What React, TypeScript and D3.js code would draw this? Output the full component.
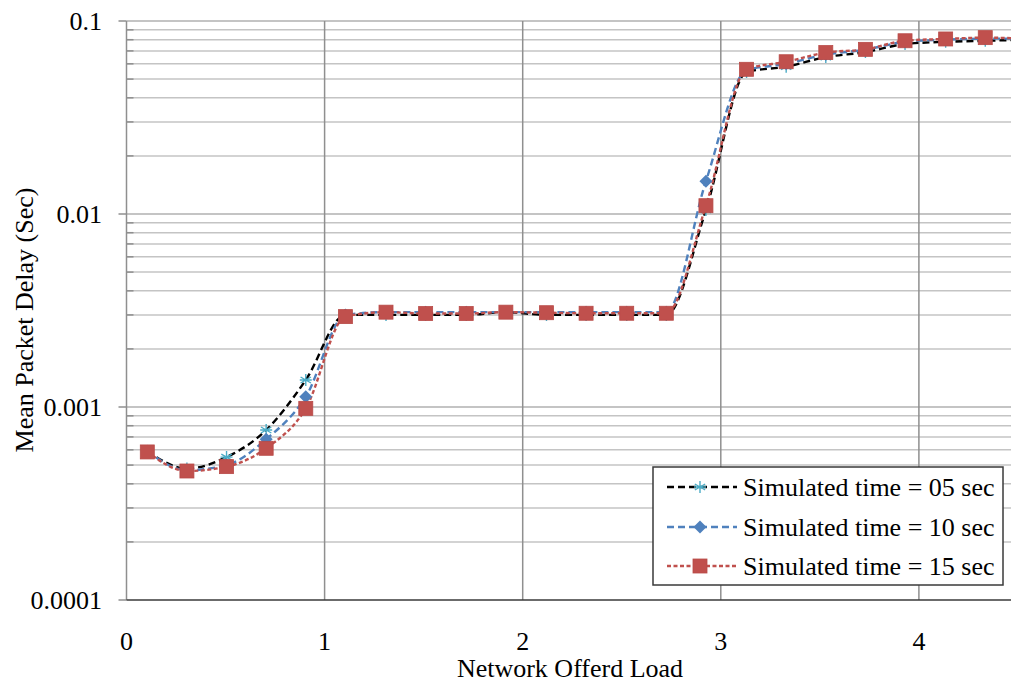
import React from "react";
import * as d3 from "d3";

const loads = [0.105, 0.305, 0.505, 0.705, 0.905, 1.105, 1.31, 1.51, 1.715, 1.915, 2.12, 2.32, 2.525, 2.725, 2.925, 3.13, 3.33, 3.53, 3.73, 3.93, 4.135, 4.335, 4.54];
const sim05 = [0.00059, 0.00048, 0.00055, 0.00076, 0.00138, 0.0030, 0.0030, 0.0030, 0.0030, 0.0031, 0.0030, 0.0030, 0.0030, 0.0030, 0.0105, 0.0545, 0.058, 0.065, 0.069, 0.076, 0.078, 0.079, 0.080];
const sim10 = [0.00059, 0.00047, 0.00050, 0.00068, 0.00113, 0.0030, 0.0031, 0.0031, 0.0031, 0.0031, 0.0031, 0.0031, 0.0031, 0.0031, 0.0148, 0.0555, 0.060, 0.067, 0.071, 0.078, 0.080, 0.081, 0.081];
const sim15 = [0.000585, 0.000466, 0.000491, 0.000611, 0.000984, 0.00294, 0.0031, 0.00305, 0.00305, 0.0031, 0.00308, 0.00306, 0.00306, 0.00306, 0.01104, 0.0562, 0.0615, 0.0686, 0.0713, 0.079, 0.0807, 0.082, 0.081];
const seriesNames = ["Simulated time = 05 sec", "Simulated time = 10 sec", "Simulated time = 15 sec"];
const xTicks = [0, 1, 2, 3, 4];
const yTicks = [0.0001, 0.001, 0.01, 0.1];
const yTickLabels = ["0.0001", "0.001", "0.01", "0.1"];
const xTitle = "Network Offerd Load";
const yTitle = "Mean Packet Delay (Sec)";

const W = 1011;
const H = 683;
const FONT = "'Liberation Serif', 'Times New Roman', serif";

const x = d3.scaleLinear().domain([0, 4.5]).range([126.5, 126.5 + 4.5 * 198.1]);
const y = d3.scaleLog().domain([0.0001, 0.1]).range([600, 21]);

const styles = [
  { line: "#000000", dash: "7,4", marker: "star", mColor: "#4BACC6" },
  { line: "#4F81BD", dash: "7,4", marker: "diamond", mColor: "#4F81BD" },
  { line: "#C0504D", dash: "4,2.5", marker: "square", mColor: "#C0504D" },
];

function Marker({ kind, cx, cy, color }: { kind: string; cx: number; cy: number; color: string }) {
  if (kind === "square") {
    return <rect x={cx - 7} y={cy - 7} width={14} height={14} fill={color} stroke="#b84a47" strokeWidth={0.8} />;
  }
  if (kind === "diamond") {
    const r = 6.5;
    return <path d={`M${cx},${cy - r}L${cx + r},${cy}L${cx},${cy + r}L${cx - r},${cy}Z`} fill={color} />;
  }
  const r = 6;
  const lines = [0, 60, 120].map((a) => {
    const rad = (a * Math.PI) / 180 + Math.PI / 2;
    return `M${cx - r * Math.cos(rad)},${cy - r * Math.sin(rad)}L${cx + r * Math.cos(rad)},${cy + r * Math.sin(rad)}`;
  });
  lines.push(`M${cx - r},${cy}L${cx + r},${cy}`);
  return <path d={lines.join("")} stroke={color} strokeWidth={1.4} fill="none" />;
}

export default function App() {
  const data = [sim05, sim10, sim15];
  const line = d3
    .line<number>()
    .x((_, i) => x(loads[i]))
    .y((v) => y(v))
    .curve(d3.curveMonotoneX);

  const minor: number[] = [];
  for (let e = -4; e < -1; e++) {
    for (let m = 2; m <= 9; m++) minor.push(m * Math.pow(10, e));
  }

  const x0 = x(0);
  const xEnd = W;
  const yBot = y(0.0001);
  const yTop = y(0.1);

  return (
    <svg width={W} height={H} style={{ position: "absolute", left: 0, top: 0, background: "#fff" }} fontFamily={FONT}>
      <defs>
        <clipPath id="plot">
          <rect x={x0} y={yTop - 10} width={xEnd - x0} height={yBot - yTop + 20} />
        </clipPath>
      </defs>
      {minor.map((v, i) => (
        <line key={"m" + i} x1={x0} x2={xEnd} y1={y(v)} y2={y(v)} stroke="#c4c4c4" strokeWidth={1.5} />
      ))}
      {yTicks.slice(1).map((v, i) => (
        <line key={"M" + i} x1={x0} x2={xEnd} y1={y(v)} y2={y(v)} stroke="#b0b0b0" strokeWidth={1.5} />
      ))}
      {xTicks.slice(1).map((v) => (
        <line key={"v" + v} x1={x(v)} x2={x(v)} y1={yTop} y2={yBot} stroke="#8f8f8f" strokeWidth={1.5} />
      ))}
      {minor.map((v, i) => (
        <line key={"mt" + i} x1={x0} x2={x0 + 7} y1={y(v)} y2={y(v)} stroke="#8f8f8f" strokeWidth={1.5} />
      ))}
      {yTicks.map((v) => (
        <line key={"t" + v} x1={x0 - 8} x2={x0} y1={y(v)} y2={y(v)} stroke="#8f8f8f" strokeWidth={1.5} />
      ))}
      <line x1={x0} x2={x0} y1={yTop} y2={yBot} stroke="#8f8f8f" strokeWidth={1.5} />
      <line x1={x0} x2={xEnd} y1={yBot} y2={yBot} stroke="#3a3a3a" strokeWidth={1.5} />

      {yTicks.map((v, i) => (
        <text key={"yl" + v} x={102} y={y(v)} textAnchor="end" dominantBaseline="central" fontSize={26} fill="#000">
          {yTickLabels[i]}
        </text>
      ))}
      {xTicks.map((v) => (
        <text key={"xl" + v} x={x(v)} y={641} textAnchor="middle" dominantBaseline="central" fontSize={26} fill="#000">
          {v}
        </text>
      ))}
      <text x={570} y={677} textAnchor="middle" fontSize={26} fill="#000">
        {xTitle}
      </text>
      <text transform={`translate(33,320) rotate(-90)`} textAnchor="middle" fontSize={26} fill="#000">
        {yTitle}
      </text>

      <g clipPath="url(#plot)">
        {data.map((s, k) => (
          <path key={"l" + k} d={line(s) || ""} fill="none" stroke={styles[k].line} strokeWidth={2.4} strokeDasharray={styles[k].dash} />
        ))}
        {data.map((s, k) => (
          <g key={"g" + k}>
            {s.map((v, i) => (
              <Marker key={i} kind={styles[k].marker} cx={x(loads[i])} cy={y(v)} color={styles[k].mColor} />
            ))}
          </g>
        ))}
      </g>

      <rect x={653} y={467} width={350} height={118} fill="#fff" stroke="#3a3a3a" strokeWidth={1.5} />
      {seriesNames.map((n, k) => {
        const cy = [487, 527, 566][k];
        return (
          <g key={"lg" + k}>
            <line x1={667} x2={737} y1={cy} y2={cy} stroke={styles[k].line} strokeWidth={2.4} strokeDasharray={styles[k].dash} />
            <Marker kind={styles[k].marker} cx={700} cy={cy} color={styles[k].mColor} />
            <text x={743} y={cy} dominantBaseline="central" fontSize={26} fill="#000">
              {n}
            </text>
          </g>
        );
      })}
    </svg>
  );
}
